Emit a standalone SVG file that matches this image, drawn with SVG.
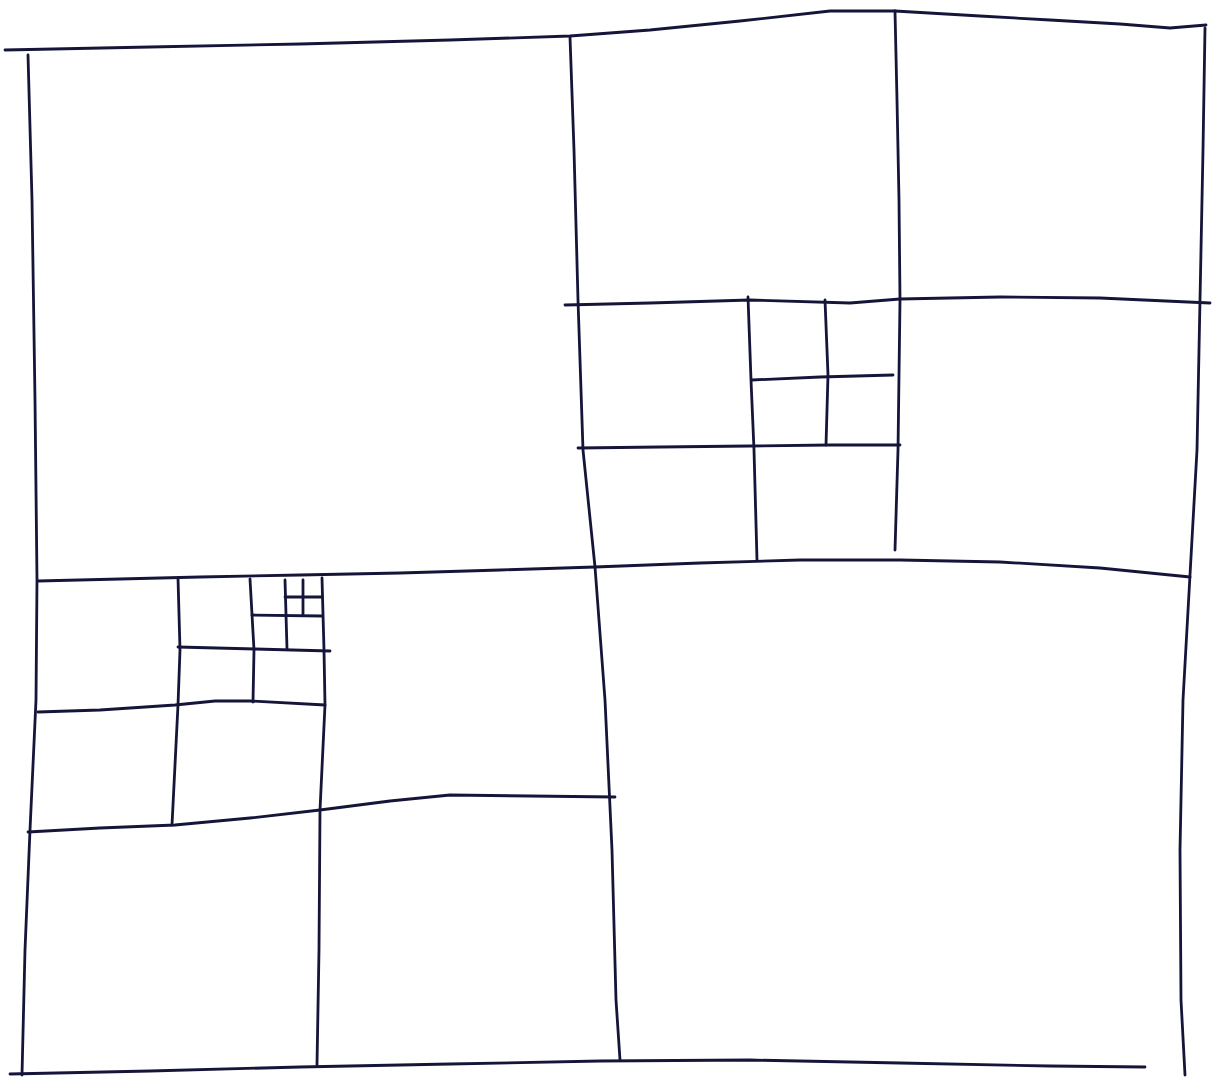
<svg xmlns="http://www.w3.org/2000/svg" width="1214" height="1078" viewBox="0 0 1214 1078">
<style>
path{fill:none;stroke:#15153a;stroke-width:2.8;stroke-linecap:round;stroke-linejoin:round}
</style>
<rect width="1214" height="1078" fill="#ffffff"/>
<g id="outer">
<path d="M5,50 L150,47 L300,44 L450,40 L570,36 L650,30 L740,21 L830,11 L895,11 L980,16 L1050,20 L1120,24 L1170,28 L1206,25"/>
<path d="M28,55 L32,200 L35,400 L37,580 L36,700 L30,830 L25,950 L22,1075"/>
<path d="M10,1074 L150,1071 L300,1067 L450,1064 L600,1061 L750,1060 L900,1063 L1050,1066 L1145,1067"/>
<path d="M1205,28 L1203,150 L1200,300 L1197,450 L1190,575 L1183,700 L1180,850 L1181,1000 L1185,1075"/>
</g>
<g id="main-split">
<path d="M570,37 L574,150 L578,300 L583,450 L595,567 L605,700 L612,850 L616,1000 L620,1060"/>
<path d="M38,581 L120,579 L200,577 L300,575 L400,573 L500,570 L595,567 L700,563 L800,560 L900,560 L1000,562 L1100,568 L1190,577"/>
</g>
<g id="upper-right">
<path d="M895,11 L897,100 L899,200 L900,300 L898,450 L895,550"/>
<path d="M565,305 L650,303 L750,300 L850,303 L900,299 L1000,297 L1100,298 L1210,303"/>
<path d="M748,297 L751,380 L754,450 L757,560"/>
<path d="M825,300 L828,375 L826,445"/>
<path d="M752,380 L820,377 L893,375"/>
<path d="M578,448 L660,447 L750,446 L830,445 L900,445"/>
</g>
<g id="lower-left">
<path d="M28,832 L100,828 L175,825 L250,818 L320,810 L390,801 L450,795 L530,796 L615,797"/>
<path d="M322,578 L324,650 L325,705 L320,810 L319,950 L317,1065"/>
<path d="M178,578 L180,650 L178,705 L172,825"/>
<path d="M38,712 L100,710 L175,705 L215,701 L250,701 L325,705"/>
<path d="M250,579 L254,650 L253,702"/>
<path d="M178,647 L255,649 L330,651"/>
<path d="M285,580 L287,649"/>
<path d="M252,615 L322,616"/>
<path d="M303,580 L303,615"/>
<path d="M285,597 L322,597"/>
</g>
</svg>
